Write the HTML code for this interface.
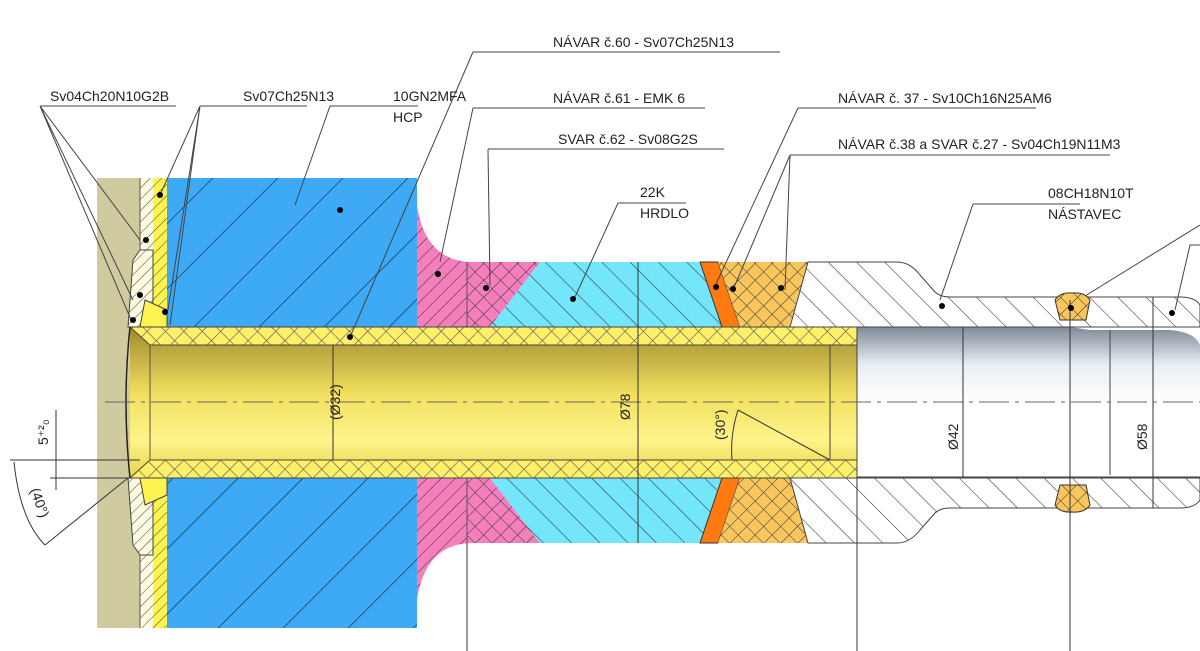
<!DOCTYPE html>
<html><head><meta charset="utf-8"><style>
html,body{margin:0;padding:0;background:#fff;width:1200px;height:651px;overflow:hidden}
svg{display:block}
text{font-family:"Liberation Sans",sans-serif;font-size:14px;fill:#222}
</style></head><body>
<svg width="1200" height="651" viewBox="0 0 1200 651" xmlns="http://www.w3.org/2000/svg">
<defs>
<pattern id="hb" patternUnits="userSpaceOnUse" width="46" height="46" patternTransform="rotate(45)"><line x1="0" y1="0" x2="0" y2="46" stroke="#1a2a40" stroke-width="1.3"/></pattern>
<pattern id="hw" patternUnits="userSpaceOnUse" width="22" height="22" patternTransform="rotate(45)"><line x1="0" y1="0" x2="0" y2="22" stroke="#333" stroke-width="1.1"/></pattern>
<pattern id="hr" patternUnits="userSpaceOnUse" width="20" height="20" patternTransform="rotate(-45)"><line x1="0" y1="0" x2="0" y2="20" stroke="#333" stroke-width="1.1"/></pattern>
<pattern id="hp" patternUnits="userSpaceOnUse" width="10" height="10" patternTransform="rotate(45)"><line x1="0" y1="0" x2="0" y2="10" stroke="#333" stroke-width="1"/></pattern>
<pattern id="hx" patternUnits="userSpaceOnUse" width="12" height="12" patternTransform="rotate(45)"><path d="M0 0V12M0 0H12" stroke="#333" stroke-width="1"/></pattern>
<pattern id="hy" patternUnits="userSpaceOnUse" width="13" height="13" patternTransform="rotate(45)"><path d="M0 0V13M0 0H13" stroke="#555" stroke-width="1.2"/></pattern>
<pattern id="ht" patternUnits="userSpaceOnUse" width="8" height="8" patternTransform="rotate(45)"><line x1="0" y1="0" x2="0" y2="8" stroke="#444" stroke-width="1"/></pattern>
<linearGradient id="gy" x1="0" y1="0" x2="0" y2="1"><stop offset="0" stop-color="#a08a30"/><stop offset="0.45" stop-color="#f2e060"/><stop offset="0.75" stop-color="#fdf48a"/><stop offset="1" stop-color="#e8d24a"/></linearGradient>
<linearGradient id="gg" x1="0" y1="0" x2="0" y2="1"><stop offset="0" stop-color="#7e8b98"/><stop offset="0.5" stop-color="#e8eef4"/><stop offset="1" stop-color="#ffffff"/></linearGradient>
</defs>

<rect x="97" y="178" width="43" height="450" fill="#d0ca9f"/>
<rect x="140" y="178" width="13" height="450" fill="#fdfbe0"/>
<rect x="140" y="178" width="13" height="450" fill="url(#ht)"/>
<rect x="153" y="178" width="14" height="450" fill="#fff34f"/>
<rect x="153" y="178" width="14" height="450" fill="url(#ht)"/>
<line x1="140" y1="178" x2="140" y2="628" stroke="#555"/>
<!-- left weld bulges -->
<path d="M140 250 L133 260 L128 327 L150 327 L153 300 L153 250 Z" fill="#fdfbe0" stroke="#444"/>
<path d="M140 250 L133 260 L128 327 L150 327 L153 300 L153 250 Z" fill="url(#ht)"/>
<path d="M140 555 L133 545 L128 478 L150 478 L153 505 L153 555 Z" fill="#fdfbe0" stroke="#444"/>
<path d="M140 555 L133 545 L128 478 L150 478 L153 505 L153 555 Z" fill="url(#ht)"/>
<rect x="167" y="178" width="250" height="450" fill="#3ea9f5"/>
<rect x="167" y="178" width="250" height="450" fill="url(#hb)"/>
<path d="M417 205 Q425 260 470 262 L540 262 L490 327 L417 327 Z" fill="#f57fbc"/>
<path d="M417 205 Q425 260 470 262 L467 262 L467 327 L417 327 Z" fill="url(#hp)"/>
<path d="M467 262 L540 262 L490 327 L467 327 Z" fill="url(#hx)"/>
<path d="M417 600 Q425 545 470 543 L540 543 L490 478 L417 478 Z" fill="#f57fbc"/>
<path d="M417 600 Q425 545 470 543 L467 543 L467 478 L417 478 Z" fill="url(#hp)"/>
<path d="M467 543 L540 543 L490 478 L467 478 Z" fill="url(#hx)"/>
<line x1="467" y1="262" x2="467" y2="640" stroke="#555"/>
<path d="M540 262 L700 262 L722 327 L490 327 Z" fill="#74e6fb"/>
<path d="M540 262 L700 262 L722 327 L490 327 Z" fill="url(#hr)"/>
<path d="M540 543 L700 543 L722 478 L490 478 Z" fill="#74e6fb"/>
<path d="M540 543 L700 543 L722 478 L490 478 Z" fill="url(#hr)"/>
<path d="M700 262 L718 262 L740 327 L722 327 Z" fill="#ff7a10" stroke="#333"/>
<path d="M700 543 L718 543 L740 478 L722 478 Z" fill="#ff7a10" stroke="#333"/>
<path d="M718 262 L808 262 L790 327 L740 327 Z" fill="#f8c65c"/>
<path d="M718 262 L808 262 L790 327 L740 327 Z" fill="url(#hx)"/>
<path d="M718 543 L808 543 L790 478 L740 478 Z" fill="#f8c65c"/>
<path d="M718 543 L808 543 L790 478 L740 478 Z" fill="url(#hx)"/>
<path d="M808 262 L897 262 Q910 262 920 275 L935 292 Q940 297 950 297 L1180 297 Q1195 297 1200 305 L1200 327 L790 327 Z" fill="#fff"/>
<path d="M808 262 L897 262 Q910 262 920 275 L935 292 Q940 297 950 297 L1180 297 Q1195 297 1200 305 L1200 327 L790 327 Z" fill="url(#hr)" stroke="#444"/>
<path d="M808 543 L897 543 Q910 543 920 530 L935 513 Q940 508 950 508 L1180 508 Q1195 508 1200 500 L1200 478 L790 478 Z" fill="#fff"/>
<path d="M808 543 L897 543 Q910 543 920 530 L935 513 Q940 508 950 508 L1180 508 Q1195 508 1200 500 L1200 478 L790 478 Z" fill="url(#hr)" stroke="#444"/>
<path d="M857 327 L1070 327 L1090 330 L1170 330 Q1195 332 1200 345 L1200 402 L857 402 Z" fill="url(#gg)"/>
<line x1="857" y1="327" x2="1200" y2="327" stroke="#444"/>
<line x1="857" y1="477" x2="1200" y2="477" stroke="#444"/>
<line x1="1110" y1="330" x2="1110" y2="475" stroke="#444"/>
<path d="M1055 300 Q1060 292 1072 293 Q1085 292 1090 300 L1086 320 L1060 320 Z" fill="#f8c65c" stroke="#333"/>
<path d="M1055 300 Q1060 292 1072 293 Q1085 292 1090 300 L1086 320 L1060 320 Z" fill="url(#hx)"/>
<path d="M1055 505 Q1060 513 1072 512 Q1085 513 1090 505 L1086 485 L1060 485 Z" fill="#f8c65c" stroke="#333"/>
<path d="M1055 505 Q1060 513 1072 512 Q1085 513 1090 505 L1086 485 L1060 485 Z" fill="url(#hx)"/>
<rect x="130" y="327" width="727" height="151" fill="url(#gy)"/>
<path d="M130 327 L857 327 L857 345 L150 345 Z" fill="#fff06a"/>
<path d="M130 327 L857 327 L857 345 L150 345 Z" fill="url(#hy)" stroke="#444"/>
<path d="M130 478 L857 478 L857 460 L150 460 Z" fill="#fff06a"/>
<path d="M130 478 L857 478 L857 460 L150 460 Z" fill="url(#hy)" stroke="#444"/>
<line x1="150" y1="345" x2="150" y2="460" stroke="#555"/>
<path d="M857 327 L857 478 M830 345 L830 460" stroke="#444" fill="none"/>
<path d="M130 327 Q122 402 130 478" stroke="#222" fill="none" stroke-width="1.5"/>
<path d="M145 300 L167 310 L167 327 L140 327 Z" fill="#fff34f" stroke="#444"/>
<path d="M145 505 L167 495 L167 478 L140 478 Z" fill="#fff34f" stroke="#444"/>
<line x1="105" y1="402" x2="1200" y2="402" stroke="#666" stroke-dasharray="30,6,4,6"/>
<g stroke="#333" fill="none" stroke-width="1">
<line x1="333" y1="345" x2="333" y2="460"/>
<line x1="638" y1="262" x2="638" y2="543"/>
<line x1="963" y1="327" x2="963" y2="477"/>
<line x1="1153" y1="297" x2="1153" y2="508"/>
<line x1="1070" y1="300" x2="1070" y2="651"/>
<line x1="857" y1="478" x2="857" y2="651"/>
<line x1="467" y1="543" x2="467" y2="651"/>
<line x1="738" y1="410" x2="830" y2="460"/>
<path d="M738 410 Q730 435 732 460"/>
<line x1="10" y1="460" x2="140" y2="460"/>
<line x1="50" y1="478" x2="130" y2="478"/>
<line x1="56" y1="410" x2="56" y2="490"/>
<line x1="128" y1="478" x2="45" y2="545"/>
<path d="M14 462 Q20 520 45 545"/>
</g>
<text transform="translate(340,420) rotate(-90)" font-size="13">(Ø32)</text>
<text transform="translate(630,420) rotate(-90)" font-size="13">Ø78</text>
<text transform="translate(725,440) rotate(-90)" font-size="13">(30°)</text>
<text transform="translate(958,450) rotate(-90)" font-size="13">Ø42</text>
<text transform="translate(1147,450) rotate(-90)" font-size="13">Ø58</text>
<text transform="translate(48,445) rotate(-90)" font-size="13">5⁺²₀</text>
<text transform="translate(30,490) rotate(70)" font-size="13">(40°)</text>
<g stroke="#444" fill="none" stroke-width="1">
<path d="M40 106 L176 106 M40 106 L140 240 M40 106 L133 300 M40 106 L132 322"/>
<path d="M200 106 L307 106 M200 106 L160 195 M200 106 L168 310 M200 106 L170 325"/>
<path d="M330 106 L418 106 M330 106 L295 205"/>
<path d="M473 52 L780 52 M473 52 L350 337"/>
<path d="M473 108 L705 108 M473 108 L440 262"/>
<path d="M488 149 L724 149 M488 149 L490 285"/>
<path d="M618 203 L686 203 M618 203 L575 297"/>
<path d="M798 108 L1036 108 M798 108 L716 284"/>
<path d="M790 155 L1110 155 M790 155 L733 290 M790 155 L785 290"/>
<path d="M973 204 L1080 204 M973 204 L940 300"/>
<path d="M1200 225 L1085 296"/>
<path d="M1200 245 L1190 245 L1175 310"/>
</g>
<g fill="#000">
<circle cx="160" cy="195" r="3"/><circle cx="146" cy="240" r="3"/><circle cx="140" cy="295" r="3"/><circle cx="133" cy="320" r="3"/><circle cx="165" cy="312" r="3"/>
<circle cx="340" cy="210" r="3"/><circle cx="350" cy="337" r="3"/><circle cx="438" cy="274" r="3"/><circle cx="486" cy="288" r="3"/>
<circle cx="573" cy="299" r="3"/><circle cx="716" cy="287" r="3"/><circle cx="733" cy="289" r="3"/><circle cx="781" cy="288" r="3"/>
<circle cx="942" cy="306" r="3"/><circle cx="1071" cy="308" r="3"/><circle cx="1172" cy="313" r="3"/>
</g>
<text x="50" y="101">Sv04Ch20N10G2B</text>
<text x="243" y="101">Sv07Ch25N13</text>
<text x="393" y="101">10GN2MFA</text>
<text x="393" y="122">HCP</text>
<text x="553" y="47">NÁVAR č.60 - Sv07Ch25N13</text>
<text x="553" y="103">NÁVAR č.61 - EMK 6</text>
<text x="558" y="144">SVAR č.62 - Sv08G2S</text>
<text x="640" y="197">22K</text>
<text x="640" y="218">HRDLO</text>
<text x="838" y="103">NÁVAR č. 37 - Sv10Ch16N25AM6</text>
<text x="838" y="149">NÁVAR č.38 a SVAR č.27 - Sv04Ch19N11M3</text>
<text x="1048" y="198">08CH18N10T</text>
<text x="1048" y="219">NÁSTAVEC</text>
</svg>
</body></html>
